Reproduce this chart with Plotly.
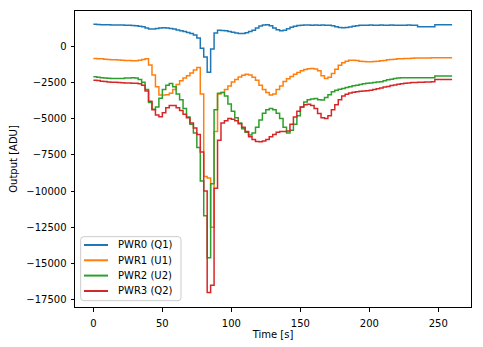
import plotly.graph_objects as go

# Sample times [s], one reading every 2.5 s
time_s = [2.5 * i for i in range(105)]

pwr0_q1 = [
    1500, 1490, 1480, 1470, 1470, 1460, 1460, 1450, 1450, 1440,
    1430, 1420, 1400, 1370, 1330, 1250, 1180, 1180, 1210, 1240,
    1260, 1250, 1220, 1170, 1110, 1060, 1000, 940, 870, 760,
    550, -150, -750, -1800, -200, 900, 1100, 1080, 1050, 1000,
    950, 900, 860, 870, 920, 1000, 1100, 1250, 1380, 1450,
    1470, 1400, 1250, 1120, 1060, 1100, 1200, 1300, 1370, 1420,
    1440, 1450, 1450, 1440, 1450, 1440, 1450, 1440, 1440, 1400,
    1330, 1290, 1270, 1280, 1320, 1370, 1410, 1430, 1440, 1440,
    1450, 1440, 1440, 1450, 1440, 1440, 1450, 1440, 1440, 1440,
    1440, 1450, 1440, 1430, 1340, 1340, 1340, 1340, 1340, 1470,
    1470, 1470, 1470, 1470, 1470,
]

pwr1_u1 = [
    -850, -870, -880, -900, -920, -940, -950, -960, -980, -990,
    -1000, -1010, -1010, -980, -930, -870, -1300, -2000, -2800, -3380,
    -3380, -3350, -3250, -3000, -2650, -2400, -2200, -2050, -1850, -1650,
    -1480, -3300, -9000, -9100, -12500, -5900, -3300, -3200, -3000, -2750,
    -2480, -2300, -2130, -2020, -1950, -1990, -2150, -2350, -2700, -3000,
    -3200, -3380, -3300, -3000, -2750, -2450, -2250, -2100, -1950, -1820,
    -1700, -1610, -1560, -1540, -1580, -1700, -2050, -2230, -2150, -1900,
    -1600, -1320, -1150, -1050, -970, -970, -1000, -1040, -1060, -1080,
    -1080, -1070, -1040, -1010, -990, -950, -920, -900, -880, -870,
    -860, -850, -840, -830, -830, -820, -820, -815, -810, -810,
    -810, -810, -805, -800, -800,
]

pwr2_u2 = [
    -2120, -2150, -2180, -2200, -2220, -2230, -2230, -2230, -2230, -2210,
    -2200, -2190, -2210, -2300, -2500, -3000, -3900, -4350, -4200, -3600,
    -3000, -2700, -2580, -2800, -3300, -3700, -4300, -4900, -5400, -6000,
    -7000, -9300, -11700, -14600, -9500, -4400, -3250, -3200, -3450, -4000,
    -4500, -4950, -5300, -5700, -5950, -6140, -6000, -5600, -5100, -4640,
    -4400, -4300, -4400, -4640, -5000, -5600, -6000, -5800, -5400, -4800,
    -4200, -3850, -3700, -3650, -3620, -3700, -3720, -3550, -3350, -3150,
    -3050, -2980, -2920, -2860, -2800, -2740, -2700, -2650, -2600, -2570,
    -2540, -2510, -2480, -2460, -2400, -2330, -2280, -2230, -2200, -2190,
    -2190, -2190, -2190, -2190, -2190, -2190, -2190, -2190, -2190, -2070,
    -2070, -2070, -2070, -2070, -2070,
]

pwr3_q2 = [
    -2350, -2380, -2420, -2450, -2470, -2490, -2500, -2520, -2530, -2540,
    -2550, -2560, -2570, -2600, -2700, -3100, -3800, -4400, -4750, -4880,
    -4600, -4250, -4100, -4100, -4250, -4450, -4700, -4950, -5300, -5650,
    -6100, -7300, -10000, -17000, -16500, -9800, -6500, -5300, -5150, -5000,
    -5050, -5150, -5350, -5600, -5900, -6250, -6450, -6580, -6600, -6550,
    -6450, -6250, -6100, -5950, -5900, -5900, -5850, -5400, -4900, -4500,
    -4200, -4050, -4020, -4100, -4300, -4650, -4950, -5000, -4800, -4400,
    -4050, -3700, -3450, -3320, -3230, -3180, -3150, -3120, -3100, -3080,
    -3050, -3000, -2950, -2900, -2830, -2780, -2720, -2680, -2640, -2600,
    -2570, -2540, -2520, -2510, -2500, -2490, -2480, -2470, -2460, -2300,
    -2300, -2300, -2300, -2300, -2300,
]

series_names = ["PWR0 (Q1)", "PWR1 (U1)", "PWR2 (U2)", "PWR3 (Q2)"]
series_values = [pwr0_q1, pwr1_u1, pwr2_u2, pwr3_q2]
colors = ["#1f77b4", "#ff7f0e", "#2ca02c", "#d62728"]

x_ticks = [0, 50, 100, 150, 200, 250]
y_ticks = [0, -2500, -5000, -7500, -10000, -12500, -15000, -17500]
y_tick_text = [str(v).replace("-", "\u2212") for v in y_ticks]

FONT = "DejaVu Sans"

fig = go.Figure()
for name, vals, col in zip(series_names, series_values, colors):
    fig.add_trace(go.Scatter(
        x=time_s, y=vals, name=name, mode="lines",
        line=dict(color=col, width=1.5, shape="hv"),
        showlegend=False,
    ))

axis_common = dict(
    showline=True, linecolor="black", linewidth=1, mirror=True,
    ticks="outside", ticklen=3.5, tickwidth=1, tickcolor="black",
    showgrid=False, zeroline=False, automargin=False,
    tickfont=dict(family=FONT, size=10, color="black"),
    title_font=dict(family=FONT, size=10, color="black"),
)

fig.update_xaxes(
    range=[-13.3, 273.7], tickvals=x_ticks, ticklabelstandoff=3,
    title_text="Time [s]", title_standoff=2, **axis_common,
)
fig.update_yaxes(
    range=[-18000, 2420], tickvals=y_ticks, ticktext=y_tick_text,
    ticklabelstandoff=2,
    title_text="Output [ADU]", title_standoff=6, **axis_common,
)

# Legend box in the lower-left corner of the axes (paper coordinates)
bx0, bx1, by0, by1 = 0.0144, 0.2677, 0.0213, 0.2375
rx, ry = 0.0076, 0.0101
box_path = (
    f"M {bx0 + rx},{by0} L {bx1 - rx},{by0} Q {bx1},{by0} {bx1},{by0 + ry} "
    f"L {bx1},{by1 - ry} Q {bx1},{by1} {bx1 - rx},{by1} "
    f"L {bx0 + rx},{by1} Q {bx0},{by1} {bx0},{by1 - ry} "
    f"L {bx0},{by0 + ry} Q {bx0},{by0} {bx0 + rx},{by0} Z"
)
shapes = [dict(
    type="path", path=box_path, xref="paper", yref="paper",
    fillcolor="rgba(255,255,255,0.8)", line=dict(color="#cccccc", width=1),
    layer="above",
)]
annotations = []
row_y = [0.2095, 0.1578, 0.1061, 0.0541]
for name, col, ry_ in zip(series_names, colors, row_y):
    shapes.append(dict(
        type="line", xref="paper", yref="paper",
        x0=0.0227, x1=0.0833, y0=ry_, y1=ry_,
        line=dict(color=col, width=2), layer="above",
    ))
    annotations.append(dict(
        text=name, xref="paper", yref="paper", x=0.1035, y=ry_,
        xanchor="left", yanchor="middle", showarrow=False,
        font=dict(family=FONT, size=10, color="black"),
    ))

fig.update_layout(
    width=483, height=347,
    margin=dict(l=75, r=12, t=11, b=40),
    plot_bgcolor="white", paper_bgcolor="white",
    font=dict(family=FONT, size=10, color="black"),
    showlegend=False,
    shapes=shapes, annotations=annotations,
)

fig.write_html("out.html")
